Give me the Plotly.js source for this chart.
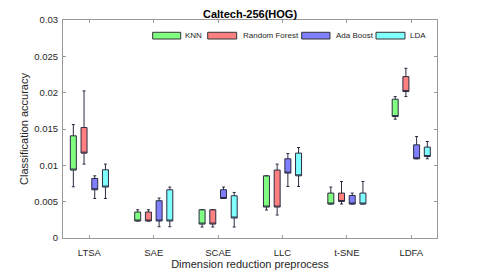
<!DOCTYPE html>
<html>
<head>
<meta charset="utf-8">
<script src="https://cdn.plot.ly/plotly-3.0.1.min.js"></script>
<style>html,body{margin:0;padding:0;background:#fff}#chart{width:485px;height:271px}</style>
</head>
<body>
<div id="chart"></div>
<script>
var categories = ['LTSA', 'SAE', 'SCAE', 'LLC', 't-SNE', 'LDFA'];
var seriesNames = ['KNN', 'Random Forest', 'Ada Boost', 'LDA'];

var knnQ1 = [0.00935, 0.00234, 0.00192, 0.00426, 0.00467, 0.01671];
var knnQ3 = [0.01406, 0.00357, 0.00389, 0.00856, 0.00618, 0.01910];
var knnLow = [0.00705, 0.00234, 0.00151, 0.00385, 0.00467, 0.01635];
var knnUp = [0.01561, 0.00389, 0.00389, 0.00856, 0.00701, 0.01946];

var rfQ1 = [0.01168, 0.00234, 0.00192, 0.00426, 0.00503, 0.02015];
var rfQ3 = [0.01520, 0.00357, 0.00389, 0.00935, 0.00618, 0.02221];
var rfLow = [0.01017, 0.00234, 0.00151, 0.00316, 0.00467, 0.01946];
var rfUp = [0.02024, 0.00389, 0.00389, 0.01017, 0.00778, 0.02336];

var adaQ1 = [0.00664, 0.00234, 0.00544, 0.00893, 0.00467, 0.01090];
var adaQ3 = [0.00819, 0.00513, 0.00664, 0.01090, 0.00585, 0.01282];
var adaLow = [0.00544, 0.00155, 0.00544, 0.00709, 0.00467, 0.01090];
var adaUp = [0.00856, 0.00550, 0.00701, 0.01163, 0.00618, 0.01396];

var ldaQ1 = [0.00701, 0.00234, 0.00275, 0.00856, 0.00467, 0.01121];
var ldaQ3 = [0.00939, 0.00664, 0.00581, 0.01168, 0.00618, 0.01251];
var ldaLow = [0.00544, 0.00155, 0.00151, 0.00709, 0.00467, 0.01090];
var ldaUp = [0.01017, 0.00701, 0.00627, 0.01245, 0.00778, 0.01328];

var yTicks = [0, 0.005, 0.01, 0.015, 0.02, 0.025, 0.03];
var yTickText = ['0', '0.005', '0.01', '0.015', '0.02', '0.025', '0.03'];

var stats = [
  [knnQ1, knnQ3, knnLow, knnUp],
  [rfQ1, rfQ3, rfLow, rfUp],
  [adaQ1, adaQ3, adaLow, adaUp],
  [ldaQ1, ldaQ3, ldaLow, ldaUp]
];
var fills = ['#80ff80', '#ff8080', '#8080ff', '#80ffff'];
var edge = '#2b2b40';

var traces = stats.map(function (s, i) {
  return {
    type: 'box',
    name: seriesNames[i],
    x: categories,
    q1: s[0],
    median: s[0],
    q3: s[1],
    lowerfence: s[2],
    upperfence: s[3],
    fillcolor: fills[i],
    line: {color: edge, width: 1},
    whiskerwidth: 0.5,
    boxpoints: false,
    hoverinfo: 'skip',
    showlegend: false
  };
});

// manual legend (patches + labels) in paper coords
var legX = [[0.2398, 0.3147], [0.3869, 0.4644], [0.6382, 0.7139], [0.8369, 0.9144]];
var legTextX = [0.3209, 0.4751, 0.7246, 0.9233];
var shapes = [];
var annotations = [];
legX.forEach(function (lx, i) {
  shapes.push({type: 'rect', xref: 'paper', yref: 'paper', x0: lx[0], x1: lx[1], y0: 0.9128, y1: 0.9436,
    fillcolor: fills[i], line: {color: '#333', width: 1}});
  annotations.push({xref: 'paper', yref: 'paper', x: legTextX[i], y: 0.928, xanchor: 'left', yanchor: 'middle',
    text: seriesNames[i], showarrow: false, font: {family: 'Liberation Sans, Arial, sans-serif', size: 8, color: '#262626'}});
});

var axisColor = '#999999';
var layout = {
  width: 485, height: 271,
  margin: {l: 63, r: 48, t: 20, b: 33, pad: 0},
  paper_bgcolor: '#ffffff', plot_bgcolor: '#ffffff',
  font: {family: 'Liberation Sans, Arial, sans-serif', color: '#262626'},
  title: {text: '<b>Caltech-256(HOG)</b>', x: 0.5155, xanchor: 'center', y: 0.947, yanchor: 'middle',
    font: {size: 11, color: '#000'}},
  boxmode: 'group',
  boxgap: 0.335,
  boxgroupgap: 0.44,
  xaxis: {
    type: 'category', categoryorder: 'array', categoryarray: categories,
    range: [-0.41, 5.4],
    showline: true, linecolor: axisColor, linewidth: 1, mirror: 'ticks',
    ticks: 'inside', ticklen: 3, tickcolor: axisColor,
    ticklabelstandoff: 6,
    showgrid: false, zeroline: false,
    tickfont: {size: 9.5, color: '#262626'},
    title: {text: 'Dimension reduction preprocess', font: {size: 11, color: '#262626'}, standoff: 1}
  },
  yaxis: {
    range: [0, 0.03],
    tickvals: yTicks, ticktext: yTickText,
    showline: true, linecolor: axisColor, linewidth: 1, mirror: 'ticks',
    ticks: 'inside', ticklen: 3, tickcolor: axisColor,
    ticklabelstandoff: 2,
    showgrid: false, zeroline: false,
    tickfont: {size: 9.5, color: '#262626'},
    title: {text: 'Classification accuracy', font: {size: 11, color: '#262626'}, standoff: 3}
  },
  shapes: shapes,
  annotations: annotations
};

Plotly.newPlot('chart', traces, layout, {displayModeBar: false, staticPlot: true});
</script>
</body>
</html>
